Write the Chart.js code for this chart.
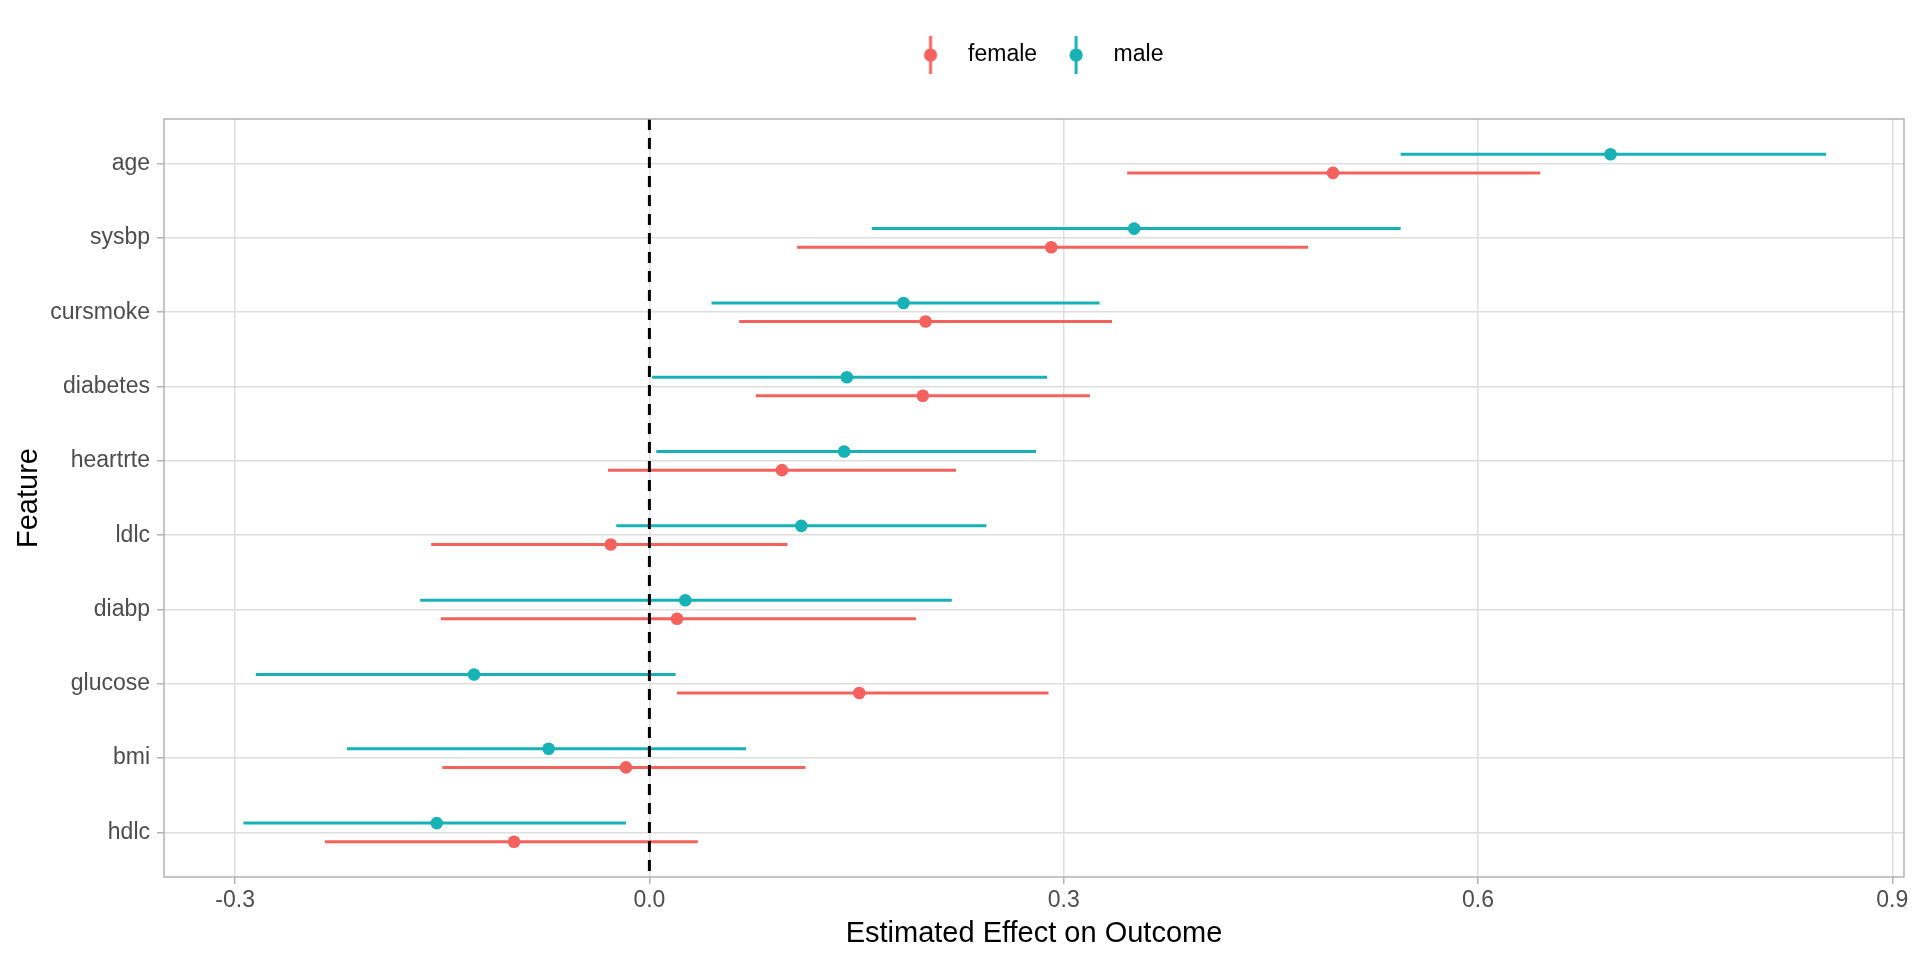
<!DOCTYPE html>
<html><head><meta charset="utf-8">
<script src="https://cdn.jsdelivr.net/npm/chart.js@4.4.0/dist/chart.umd.min.js"></script>
<style>html,body{margin:0;padding:0;background:#fff;}canvas{display:block}</style>
</head><body>
<canvas id="c" width="1920" height="960"></canvas>
<script>
// ---- data ----
const features  = ['age','sysbp','cursmoke','diabetes','heartrte','ldlc','diabp','glucose','bmi','hdlc'];
const femaleEst = [0.495, 0.291, 0.200, 0.198, 0.096, -0.028, 0.020, 0.152, -0.017, -0.098];
const femaleLo  = [0.346, 0.107, 0.065, 0.077, -0.030, -0.158, -0.151, 0.020, -0.150, -0.235];
const femaleHi  = [0.645, 0.477, 0.335, 0.319, 0.222, 0.100, 0.193, 0.289, 0.113, 0.035];
const maleEst   = [0.696, 0.351, 0.184, 0.143, 0.141, 0.110, 0.026, -0.127, -0.073, -0.154];
const maleLo    = [0.544, 0.161, 0.045, 0.002, 0.005, -0.024, -0.166, -0.285, -0.219, -0.294];
const maleHi    = [0.852, 0.544, 0.326, 0.288, 0.280, 0.244, 0.219, 0.019, 0.070, -0.017];
const seriesNames = ['female', 'male'];
const xTicks    = [-0.3, 0.0, 0.3, 0.6, 0.9];
const refLineX  = 0;

// ---- style ----
const COLORS = ['#F5625D', '#17B2B6'];
const DODGE = 0.125;
const N = features.length;
const FONT = "'Liberation Sans', Arial, Helvetica, sans-serif";

function glyph(color) {
  const c = document.createElement('canvas');
  c.width = 16; c.height = 38;
  const g = c.getContext('2d');
  g.strokeStyle = color; g.lineWidth = 3;
  g.beginPath(); g.moveTo(8, 0); g.lineTo(8, 38); g.stroke();
  g.fillStyle = color;
  g.beginPath(); g.arc(8, 19, 6.6, 0, Math.PI * 2); g.fill();
  return c;
}
const glyphs = COLORS.map(glyph);

function mkData(est) {
  return features.map((f, i) => ({ x: est[i], y: (N - i) }));
}

const errorBars = {
  id: 'errorBars',
  beforeDatasetsDraw(chart) {
    const { ctx, chartArea: a, scales: { x, y } } = chart;
    ctx.save();
    ctx.beginPath(); ctx.rect(a.left, a.top, a.right - a.left, a.bottom - a.top); ctx.clip();
    chart.data.datasets.forEach((ds) => {
      if (!ds.lo) return;
      ctx.strokeStyle = ds.borderColor; ctx.lineWidth = 3; ctx.lineCap = 'butt';
      ds.data.forEach((p, i) => {
        const py = y.getPixelForValue(p.y);
        ctx.beginPath();
        ctx.moveTo(x.getPixelForValue(ds.lo[i]), py);
        ctx.lineTo(x.getPixelForValue(ds.hi[i]), py);
        ctx.stroke();
      });
    });
    ctx.restore();
  },
  afterDatasetsDraw(chart) {
    const { ctx, chartArea: a, scales: { x } } = chart;
    const px = x.getPixelForValue(refLineX);
    ctx.save();
    ctx.strokeStyle = '#000'; ctx.lineWidth = 3; ctx.setLineDash([11, 8]);
    ctx.beginPath(); ctx.moveTo(px, a.top); ctx.lineTo(px, a.bottom); ctx.stroke();
    ctx.setLineDash([]);
    ctx.strokeStyle = '#B3B3B3'; ctx.lineWidth = 1.5;
    ctx.strokeRect(a.left, a.top, a.right - a.left, a.bottom - a.top);
    ctx.restore();
  }
};

const legendSize = {
  id: 'legendSize',
  afterInit(chart) {
    const lg = chart.legend;
    if (!lg) return;
    const f = lg.fit.bind(lg);
    lg.fit = function () { f(); this.height = 88.5; };
  }
};

const datasets = [
  { label: seriesNames[0], data: mkData(femaleEst).map(p => ({ x: p.x, y: p.y - DODGE })), lo: femaleLo, hi: femaleHi },
  { label: seriesNames[1], data: mkData(maleEst).map(p => ({ x: p.x, y: p.y + DODGE })), lo: maleLo, hi: maleHi }
].map((d, k) => Object.assign(d, {
  backgroundColor: COLORS[k], borderColor: COLORS[k],
  pointRadius: 6.3, pointBorderWidth: 0, pointHoverRadius: 6.3
}));

new Chart(document.getElementById('c'), {
  type: 'scatter',
  data: { datasets },
  options: {
    responsive: false, animation: false, devicePixelRatio: 1, events: [],
    layout: { padding: { top: 30.5, right: 16, bottom: 0, left: 0 } },
    plugins: {
      tooltip: { enabled: false },
      legend: {
        position: 'top', fullSize: false,
        labels: {
          usePointStyle: true, pointStyleWidth: 52, padding: 13,
          color: '#000', font: { family: FONT, size: 23 },
          generateLabels(chart) {
            const items = Chart.defaults.plugins.legend.labels.generateLabels(chart);
            items.forEach((it, i) => { it.pointStyle = glyphs[i]; });
            return items;
          }
        }
      }
    },
    scales: {
      x: {
        type: 'linear', min: -0.3515, max: 0.9085,
        afterFit(s) { s.height = 83; },
        afterBuildTicks(s) { s.ticks = xTicks.map(v => ({ value: v })); },
        ticks: { color: '#4D4D4D', font: { family: FONT, size: 23 }, padding: 3,
                 callback: v => v.toFixed(1) },
        grid: { color: '#DEDEDE', lineWidth: 1.5, tickLength: 7, tickColor: '#B3B3B3', tickWidth: 1.5 },
        border: { display: false },
        title: { display: true, text: 'Estimated Effect on Outcome', color: '#000',
                 font: { family: FONT, size: 29 }, padding: { top: 0, bottom: 9 } }
      },
      y: {
        type: 'linear', min: 0.4, max: N + 0.6,
        afterFit(s) { s.width = 164; },
        afterBuildTicks(s) { s.ticks = features.map((f, i) => ({ value: N - i })); },
        ticks: { color: '#4D4D4D', font: { family: FONT, size: 23 }, padding: 7,
                 callback: v => features[N - v] },
        grid: { color: '#DEDEDE', lineWidth: 1.5, tickLength: 7, tickColor: '#B3B3B3', tickWidth: 1.5 },
        border: { display: false },
        title: { display: true, text: 'Feature', color: '#000',
                 font: { family: FONT, size: 29 }, padding: { top: 12, bottom: 0 } }
      }
    }
  },
  plugins: [errorBars, legendSize]
});
</script>
</body></html>
